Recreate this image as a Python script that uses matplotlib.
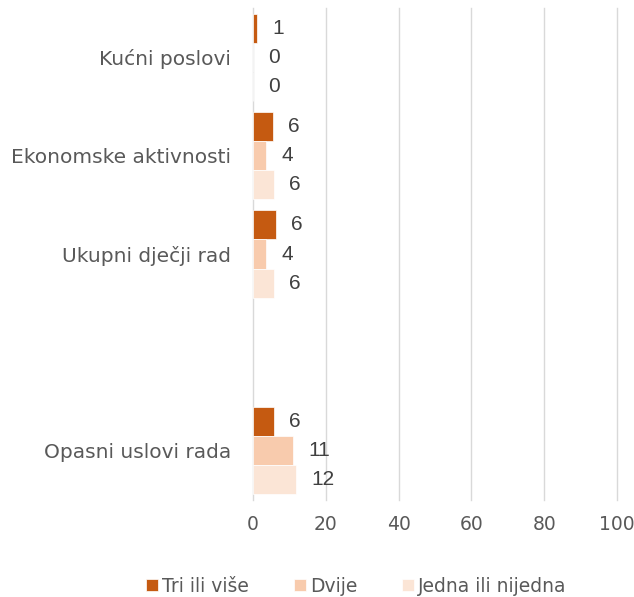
import numpy as np
from matplotlib import pyplot as plt

# categories top to bottom (empty slot between Ukupni and Opasni)
categories = ['Kućni poslovi', 'Ekonomske aktivnosti', 'Ukupni dječji rad', '', 'Opasni uslovi rada']
series_names = ['Tri ili više', 'Dvije', 'Jedna ili nijedna']
tri_ili_vise = [1.1, 5.5, 6.3, None, 5.8]
dvije = [0, 3.6, 3.7, None, 11.0]
jedna_ili_nijedna = [0, 5.8, 5.8, None, 11.8]
colors = ['#C55A11', '#F8CBAD', '#FBE5D6']

plt.rcParams['font.family'] = ['DejaVu Sans']

fig = plt.figure(figsize=(6.34, 5.97), dpi=100)
ax = fig.add_axes([253/634, 1-500/597, (617-253)/634, (500-8)/597])

y = np.arange(len(categories))
h = 0.295
series = [tri_ili_vise, dvije, jedna_ili_nijedna]
for i, (vals, name, col) in enumerate(zip(series, series_names, colors)):
    pos = y + (i-1)*h
    v = [np.nan if s is None else s for s in vals]
    ax.barh(pos, v, height=h, color=col, edgecolor='white', linewidth=0.5, label=name, zorder=3)
    for p, s in zip(pos, vals):
        if s is None:
            continue
        ax.annotate('%d' % round(s), (s, p), xytext=(15, 0), textcoords='offset pixels',
                    ha='left', va='center', fontsize=15, color='#404040',
                    fontfamily='Liberation Sans')

ax.set_xlim(0, 100)
ax.set_ylim(len(categories)-0.5, -0.5)
ax.set_xticks(range(0, 101, 20))
ax.set_yticks(y)
ax.set_yticklabels(categories, fontsize=14.5)
ax.tick_params(axis='both', length=0, colors='#595959')
ax.tick_params(axis='x', pad=11, labelsize=13.5)
ax.tick_params(axis='y', pad=16)
ax.grid(axis='x', color='#D9D9D9', linewidth=1, zorder=0)
for gl in ax.get_xgridlines():
    gl.set_clip_on(False)
for s in ax.spines.values():
    s.set_visible(False)

fig.legend(loc='center left', bbox_to_anchor=(146/634, 1-586/597), ncol=3, frameon=False,
           fontsize=13.5, handlelength=0.65, handleheight=0.65, handletextpad=0.2,
           columnspacing=2.4, labelcolor='#595959', borderpad=0, borderaxespad=0)

plt.savefig('out.png', dpi=100)
